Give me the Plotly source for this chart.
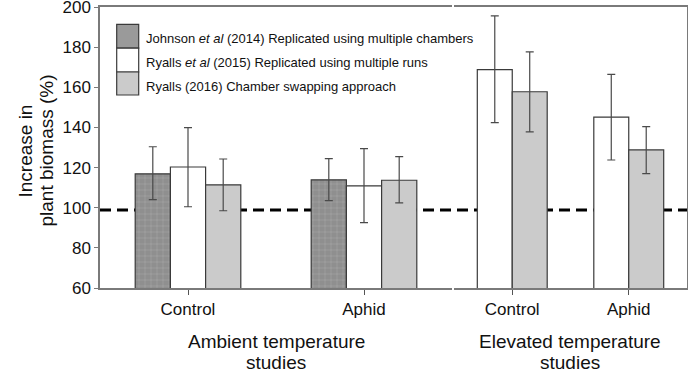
import plotly.graph_objects as go

# ---------------- data ----------------
categories = ["Control", "Aphid"]

# Ambient temperature studies
amb_johnson = [116.9, 113.9]
amb_johnson_hi = [130.4, 124.5]
amb_johnson_lo = [104.0, 103.5]

amb_ryalls15 = [120.3, 110.9]
amb_ryalls15_hi = [139.9, 129.5]
amb_ryalls15_lo = [100.5, 92.6]

amb_ryalls16 = [111.4, 113.7]
amb_ryalls16_hi = [124.3, 125.5]
amb_ryalls16_lo = [98.5, 102.4]

# Elevated temperature studies
elev_ryalls15 = [168.8, 145.2]
elev_ryalls15_hi = [195.6, 166.5]
elev_ryalls15_lo = [142.4, 123.8]

elev_ryalls16 = [157.8, 128.8]
elev_ryalls16_hi = [177.7, 140.4]
elev_ryalls16_lo = [137.8, 117.0]

reference_level = 98.9

y_ticks = [60, 80, 100, 120, 140, 160, 180, 200]
y_tick_text = ["60", "80", "100", "120", "140", "160", "180", "200"]

group_titles = [["Ambient temperature", "studies"], ["Elevated temperature", "studies"]]
y_title_lines = ["Increase in", "plant biomass (%)"]

series_names = [
    "Johnson <i>et al</i> (2014) Replicated using multiple chambers",
    "Ryalls <i>et al</i> (2015) Replicated using multiple runs",
    "Ryalls (2016) Chamber swapping approach",
]

# ---------------- styles ----------------
FONT = "Liberation Sans, Arial, sans-serif"
OUTLINE = "#3a3a3a"
ERR = "#4a4a4a"
AXIS = "#7a7a7a"

johnson_marker = dict(
    color="#8f8f8f",
    line=dict(color=OUTLINE, width=1.2),
    pattern=dict(shape="+", fgcolor="#c4c4c4", bgcolor="#8f8f8f", size=6, solidity=0.15),
)
white_marker = dict(color="white", line=dict(color=OUTLINE, width=1.2))
gray_marker = dict(color="#cbcbcb", line=dict(color=OUTLINE, width=1.2))


def err(vals, hi, lo):
    return dict(
        type="data",
        symmetric=False,
        array=[h - v for h, v in zip(hi, vals)],
        arrayminus=[v - l for l, v in zip(lo, vals)],
        color=ERR,
        thickness=1.2,
        width=4,
    )


fig = go.Figure()

fig.add_trace(go.Bar(x=categories, y=amb_johnson, marker=johnson_marker,
                     error_y=err(amb_johnson, amb_johnson_hi, amb_johnson_lo),
                     xaxis="x", yaxis="y", showlegend=False))
fig.add_trace(go.Bar(x=categories, y=amb_ryalls15, marker=white_marker,
                     error_y=err(amb_ryalls15, amb_ryalls15_hi, amb_ryalls15_lo),
                     xaxis="x", yaxis="y", showlegend=False))
fig.add_trace(go.Bar(x=categories, y=amb_ryalls16, marker=gray_marker,
                     error_y=err(amb_ryalls16, amb_ryalls16_hi, amb_ryalls16_lo),
                     xaxis="x", yaxis="y", showlegend=False))

fig.add_trace(go.Bar(x=categories, y=elev_ryalls15, marker=white_marker,
                     error_y=err(elev_ryalls15, elev_ryalls15_hi, elev_ryalls15_lo),
                     xaxis="x2", yaxis="y2", showlegend=False))
fig.add_trace(go.Bar(x=categories, y=elev_ryalls16, marker=gray_marker,
                     error_y=err(elev_ryalls16, elev_ryalls16_hi, elev_ryalls16_lo),
                     xaxis="x2", yaxis="y2", showlegend=False))

W, H = 688, 373
ML, MR, MT, MB = 100, 1, 7, 85
PW = W - ML - MR
PH = H - MT - MB


def px(xp):
    return (xp - ML) / PW


def py(yp):
    return (H - MB - yp) / PH


left_end = px(452)
right_start = px(454)

common_x = dict(
    showline=True, linecolor=AXIS, linewidth=1.5, mirror=True,
    ticks="outside", ticklen=5, tickcolor="#555", tickwidth=1,
    tickfont=dict(family=FONT, size=17, color="#111"),
    showgrid=False, zeroline=False, automargin=False,
)

fig.update_layout(
    width=W, height=H,
    margin=dict(l=ML, r=MR, t=MT, b=MB, autoexpand=False),
    paper_bgcolor="white",
    plot_bgcolor="rgba(0,0,0,0)",
    barmode="group",
    bargap=0.4,
    bargroupgap=0,
    font=dict(family=FONT, color="#111"),
    xaxis=dict(domain=[0, left_end], anchor="y", **common_x),
    xaxis2=dict(domain=[right_start, 1], anchor="y2", **common_x),
    yaxis=dict(range=[60, 200.05], tickvals=y_ticks, ticktext=y_tick_text, anchor="x",
               showline=True, linecolor=AXIS, linewidth=1.5,
               ticks="outside", ticklen=4, tickcolor=AXIS,
               tickfont=dict(family=FONT, size=17, color="#111"),
               ticklabeloverflow="allow",
               showgrid=False, zeroline=False, automargin=False),
    yaxis2=dict(range=[60, 200.05], anchor="x2", side="right",
                showline=True, linecolor=AXIS, linewidth=1.5,
                showticklabels=False, ticks="",
                showgrid=False, zeroline=False, automargin=False),
)

# dashed reference line across both panels (behind bars)
fig.add_shape(type="line", xref="paper", yref="y", x0=0, x1=1,
              y0=reference_level, y1=reference_level,
              line=dict(color="black", width=3, dash="11px,6px"), layer="below")

# y axis title as two rotated lines
for xpix, line in zip([12, 33], y_title_lines):
    fig.add_annotation(text=line, xref="paper", yref="paper",
                       x=px(xpix), y=py(151), textangle=-90, showarrow=False,
                       font=dict(family=FONT, size=19, color="#111"))

# group titles under each panel
for xc, lines in zip([276, 570], group_titles):
    for ypix, line in zip([341, 362], lines):
        fig.add_annotation(text=line, xref="paper", yref="paper",
                           x=px(xc), y=py(ypix), xanchor="center", yanchor="middle",
                           showarrow=False,
                           font=dict(family=FONT, size=19, color="#111"))

# custom legend
legend_fills = ["#9a9a9a", "white", "#cbcbcb"]
box_edges = [24.3, 48.2, 72.0, 95.0]
text_centers = [38.3, 62.3, 86.0]
for i, name in enumerate(series_names):
    fig.add_shape(type="rect", xref="paper", yref="paper",
                  x0=px(116.7), x1=px(138.7), y0=py(box_edges[i + 1]), y1=py(box_edges[i]),
                  fillcolor=legend_fills[i], line=dict(color=OUTLINE, width=1.2))
    fig.add_annotation(text=name, xref="paper", yref="paper",
                       x=px(143.5), y=py(text_centers[i]), xanchor="left", yanchor="middle",
                       showarrow=False, font=dict(family=FONT, size=13, color="#111"))

fig.write_html("out.html", config={"displayModeBar": False},
               post_script="document.body.style.margin='0px';")
